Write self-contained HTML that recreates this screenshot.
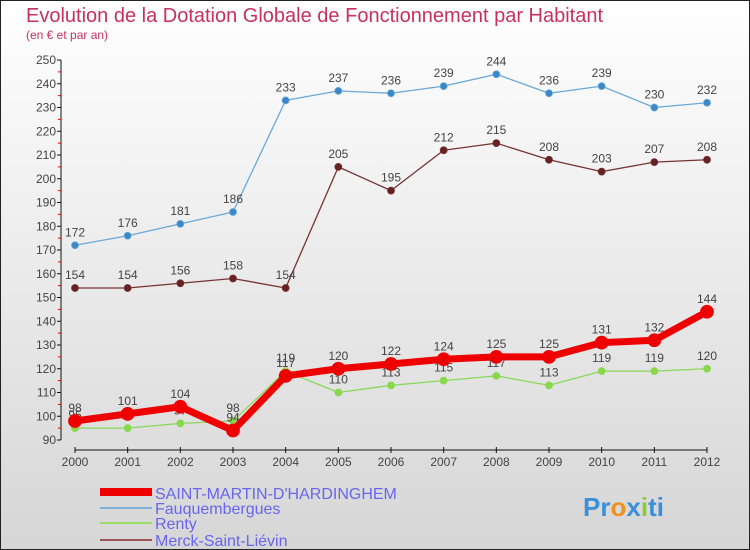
<!DOCTYPE html>
<html><head><meta charset="utf-8"><style>
body{margin:0}
#c{width:750px;height:550px;position:relative;overflow:hidden;font-family:"Liberation Sans",sans-serif}
</style></head><body>
<div id="c">
<svg id="s" width="750" height="550" xmlns="http://www.w3.org/2000/svg">
<defs><linearGradient id="bg" x1="0" y1="0" x2="0" y2="1"><stop offset="0" stop-color="#ffffff"/><stop offset="1" stop-color="#d6d6d6"/></linearGradient></defs>
<rect x="0.5" y="0.5" width="749" height="549" fill="url(#bg)" stroke="#222"/>
<text x="26" y="22" font-size="20" fill="#c8305f">Evolution de la Dotation Globale de Fonctionnement par Habitant</text>
<text x="26" y="39" font-size="12" fill="#c8305f">(en € et par an)</text>
<g id="axes"></g><g id="series"></g>
<g>
<line x1="100" y1="492" x2="152" y2="492" stroke="#ee0000" stroke-width="8"/>
<text x="155" y="499" font-size="16" fill="#6666ee">SAINT-MARTIN-D'HARDINGHEM</text>
<line x1="100" y1="508" x2="152" y2="508" stroke="#7fb0d8" stroke-width="2"/>
<text x="155" y="514" font-size="16" fill="#6666ee">Fauquembergues</text>
<line x1="100" y1="523" x2="152" y2="523" stroke="#99dd66" stroke-width="2"/>
<text x="155" y="529" font-size="16" fill="#6666ee">Renty</text>
<line x1="100" y1="540" x2="152" y2="540" stroke="#995555" stroke-width="2"/>
<text x="155" y="546" font-size="16" fill="#6666ee">Merck-Saint-Liévin</text>
</g>
<text x="583" y="516" font-size="26" font-weight="bold"><tspan fill="#3a8fd8">Pr</tspan><tspan fill="#f09020">o</tspan><tspan fill="#3a8fd8">x</tspan><tspan fill="#88cc33">i</tspan><tspan fill="#3a8fd8">ti</tspan></text>
</svg>
<script>
const years=["2000","2001","2002","2003","2004","2005","2006","2007","2008","2009","2010","2011","2012"];
const yTicks=[90,100,110,120,130,140,150,160,170,180,190,200,210,220,230,240,250];
const smValues=[98,101,104,94,117,120,122,124,125,125,131,132,144];
const fauqValues=[172,176,181,186,233,237,236,239,244,236,239,230,232];
const rentyValues=[95,95,97,98,119,110,113,115,117,113,119,119,120];
const merckValues=[154,154,156,158,154,205,195,212,215,208,203,207,208];
const NS="http://www.w3.org/2000/svg";
const X=i=>75+i*(707-75)/(years.length-1);
const Y=v=>440-(v-90)*380/160;
function mk(tag,attrs,parent){const e=document.createElementNS(NS,tag);for(const k in attrs)e.setAttribute(k,attrs[k]);parent.appendChild(e);return e;}
const ax=document.getElementById('axes');
let l=mk('line',{x1:61,y1:Y(250),x2:61,y2:Y(90),stroke:'#111'},ax);


yTicks.forEach(v=>{
 const t=mk('line',{x1:57,y1:Y(v),x2:61,y2:Y(v),stroke:'#111'},ax);
 
 
 if(v<250){const m=mk('line',{x1:58,y1:Y(v+5),x2:61,y2:Y(v+5),stroke:'#e00'},ax);
 
 }
 const tx=mk('text',{x:56,y:Y(v)+4,'font-size':12,fill:'#444','text-anchor':'end'},ax);tx.textContent=v;
 
 
});
l=mk('line',{x1:75,y1:450,x2:707,y2:450,stroke:'#111'},ax);


years.forEach((y,i)=>{
 const t=mk('line',{x1:X(i),y1:447,x2:X(i),y2:453,stroke:'#111'},ax);
 
 
 const tx=mk('text',{x:X(i),y:466,'font-size':12,fill:'#444','text-anchor':'middle'},ax);tx.textContent=y;
 
 
});
const sg=document.getElementById('series');
function series(name,vals,color,w,r,fill){
 const g=mk('g',{},sg);
 
 
 const p=mk('polyline',{points:vals.map((v,i)=>X(i)+','+Y(v)).join(' '),fill:'none',stroke:color,'stroke-width':w,'stroke-linejoin':'round'},g);
 
 
 vals.forEach((v,i)=>{
  const c=mk('circle',{cx:X(i),cy:Y(v),r:r,fill:fill,stroke:color,'stroke-width':0.8},g);
  
  
  const t=mk('text',{x:X(i),y:Y(v)-9,'font-size':12,fill:'#444','text-anchor':'middle'},g);t.textContent=v;
  
  
 });
}
series('fauquembergues',fauqValues,'#6aa8d8',1.3,3.5,'#3a88c8');
series('merck',merckValues,'#773333',1.3,3.5,'#662222');
series('renty',rentyValues,'#88d858',1.3,3.5,'#88d848');
series('saint-martin',smValues,'#ee0000',7,6.5,'#ee0000');
</script>
</div>
</body></html>
